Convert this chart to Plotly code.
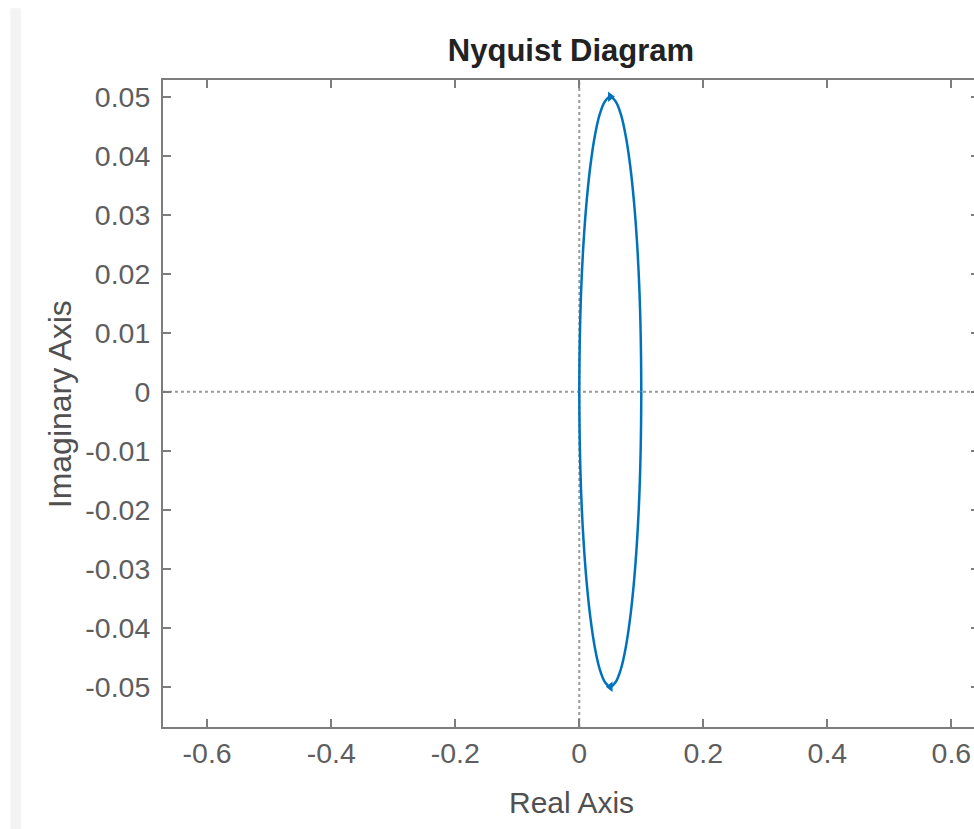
import plotly.graph_objects as go

# Nyquist curve (upper half: positive frequencies, lower half: negative)
upper_re = [0.0, 0.0008, 0.0030, 0.0067, 0.0117, 0.0179, 0.0250, 0.0329, 0.0413, 0.0500,
            0.0587, 0.0671, 0.0750, 0.0821, 0.0883, 0.0933, 0.0970, 0.0992, 0.1000]
upper_im = [0.0, 0.0087, 0.0171, 0.0250, 0.0321, 0.0383, 0.0433, 0.0470, 0.0492, 0.0500,
            0.0492, 0.0470, 0.0433, 0.0383, 0.0321, 0.0250, 0.0171, 0.0087, 0.0]
lower_re = [0.1000, 0.0992, 0.0970, 0.0933, 0.0883, 0.0821, 0.0750, 0.0671, 0.0587, 0.0500,
            0.0413, 0.0329, 0.0250, 0.0179, 0.0117, 0.0067, 0.0030, 0.0008, 0.0]
lower_im = [0.0, -0.0087, -0.0171, -0.0250, -0.0321, -0.0383, -0.0433, -0.0470, -0.0492, -0.0500,
            -0.0492, -0.0470, -0.0433, -0.0383, -0.0321, -0.0250, -0.0171, -0.0087, 0.0]

x_ticks = [-0.6, -0.4, -0.2, 0, 0.2, 0.4, 0.6]
x_tick_labels = ["-0.6", "-0.4", "-0.2", "0", "0.2", "0.4", "0.6"]
y_ticks = [0.05, 0.04, 0.03, 0.02, 0.01, 0, -0.01, -0.02, -0.03, -0.04, -0.05]
y_tick_labels = ["0.05", "0.04", "0.03", "0.02", "0.01", "0", "-0.01", "-0.02", "-0.03", "-0.04", "-0.05"]

BLUE = "#0072BD"
AX = "#7d7d7d"
TXT = "#5e5e5e"
FONT = "Liberation Sans, Arial, Helvetica, sans-serif"

fig = go.Figure()
fig.add_trace(go.Scatter(x=upper_re, y=upper_im, mode="lines", line=dict(color=BLUE, width=2.5, shape="spline"),
                         hoverinfo="skip", showlegend=False))
fig.add_trace(go.Scatter(x=lower_re, y=lower_im, mode="lines", line=dict(color=BLUE, width=2.5, shape="spline"),
                         hoverinfo="skip", showlegend=False))
# arrowheads at the top and bottom points
mid = 9
fig.add_trace(go.Scatter(x=[upper_re[mid]], y=[upper_im[mid]], mode="markers",
                         marker=dict(symbol="triangle-right", size=9, color=BLUE), hoverinfo="skip", showlegend=False))
fig.add_trace(go.Scatter(x=[lower_re[mid]], y=[lower_im[mid]], mode="markers",
                         marker=dict(symbol="triangle-left", size=9, color=BLUE), hoverinfo="skip", showlegend=False))

# plot area in page pixels: left 163, right 981 (beyond the window), top 80, bottom 727
PW = 981 - 163
shapes = [
    # dotted zero lines
    dict(type="line", xref="x", yref="paper", x0=0, x1=0, y0=0, y1=1,
         line=dict(color="#9a9a9a", width=2, dash="dot"), layer="below"),
    dict(type="line", xref="paper", yref="y", x0=0, x1=1, y0=0, y1=0,
         line=dict(color="#9a9a9a", width=2, dash="dot"), layer="below"),
    # light gray strip at the left edge of the window
    dict(type="rect", xref="paper", yref="paper", x0=(10 - 163) / PW, x1=(20.7 - 163) / PW, y0=-0.2, y1=1.111,
         fillcolor="#f3f3f3", line=dict(width=0), layer="below"),
]

fig.update_layout(
    width=981, height=829,
    margin=dict(l=163, r=0, t=80, b=102),
    paper_bgcolor="white", plot_bgcolor="white",
    font=dict(family=FONT, color=TXT),
    title=dict(text="<b>Nyquist Diagram</b>", x=0.5, xref="paper", xanchor="center",
               y=1 - 50 / 829, yref="container", yanchor="middle",
               font=dict(family=FONT, size=31, color="#222222")),
    shapes=shapes,
    annotations=[
        dict(text="Real Axis", xref="paper", yref="paper", x=0.5, y=(727 - 802) / 647,
             xanchor="center", yanchor="middle", showarrow=False,
             font=dict(family=FONT, size=30, color="#505050")),
        dict(text="Imaginary Axis", xref="paper", yref="paper", x=(60 - 163) / PW, y=(727 - 404) / 647,
             xanchor="center", yanchor="middle", showarrow=False, textangle=-90,
             font=dict(family=FONT, size=32, color="#505050")),
    ],
)
fig.update_xaxes(range=[-0.6712, 0.6445], tickvals=x_ticks, ticktext=x_tick_labels,
                 showgrid=False, zeroline=False, showline=True, linecolor=AX, linewidth=2,
                 mirror="ticks", ticks="inside", ticklen=8, tickwidth=2, tickcolor=AX,
                 tickfont=dict(family=FONT, size=28.5, color=TXT), ticklabelstandoff=0)
fig.update_yaxes(range=[-0.05683, 0.05283], tickvals=y_ticks, ticktext=y_tick_labels,
                 showgrid=False, zeroline=False, showline=True, linecolor=AX, linewidth=2,
                 mirror="ticks", ticks="inside", ticklen=8, tickwidth=2, tickcolor=AX,
                 tickfont=dict(family=FONT, size=28.5, color=TXT), ticklabelstandoff=5)

fig.write_html("out.html", config=dict(displayModeBar=False),
               post_script="document.body.style.margin='0';document.documentElement.style.overflow='hidden';document.body.style.overflow='hidden';")
